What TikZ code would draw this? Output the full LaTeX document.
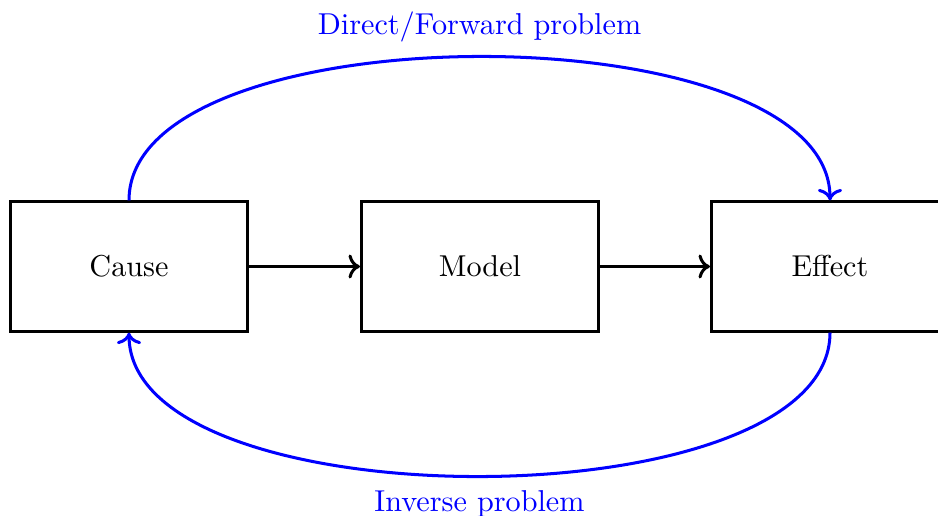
\documentclass[tikz,border=0pt]{standalone}
\usetikzlibrary{arrows.meta}
\begin{document}
\begin{tikzpicture}[x=0.3311pt,y=-0.3311pt,
  blockbox/.style={draw,line width=1pt,minimum width=78.5pt,minimum height=42.8pt,inner sep=0pt},
  flow/.style={line width=1pt,->},
  problem/.style={blue,line width=1pt,->}]
\useasboundingbox (0,0) rectangle (938,515);
\node[blockbox] (cause) at (129,266.5) {Cause};
\node[blockbox] (model) at (480,266.5) {Model};
\node[blockbox] (effect) at (830,266.5) {Effect};
\draw[flow] (cause) -- (model);
\draw[flow] (model) -- (effect);
\draw[problem] (cause.north) to[out=90,in=90,looseness=0.7]
  node[midway,above=1.2pt,text=blue] (direct) {Direct/Forward problem} (effect.north);
\draw[problem] (effect.south) to[out=-90,in=-90,looseness=0.7]
  node[midway,below=1pt,text=blue] (inverse) {Inverse problem} (cause.south);
\end{tikzpicture}
\end{document}
